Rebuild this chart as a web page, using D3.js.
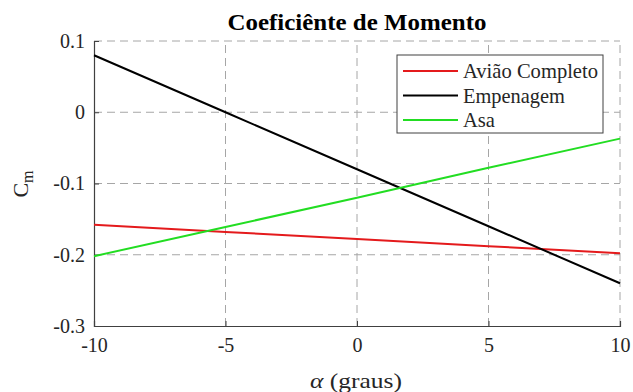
<!DOCTYPE html>
<html>
<head>
<meta charset="utf-8">
<script src="https://cdn.jsdelivr.net/npm/d3@7.9.0/dist/d3.min.js"></script>
<style>
  body { margin: 0; background: #fff; }
  text { font-family: "Liberation Serif", "Times New Roman", serif; fill: #262626; }
</style>
</head>
<body>
<svg id="chart" width="633" height="392"></svg>
<script>
// ----- data -----
const alpha = [-10, -5, 0, 5, 10];
const aviaoCompleto = [-0.158, -0.168, -0.178, -0.188, -0.198];
const empenagem = [0.08, 0.0, -0.08, -0.16, -0.24];
const asa = [-0.202, -0.161, -0.12, -0.078, -0.037];
const seriesNames = ["Avião Completo", "Empenagem", "Asa"];
const seriesColors = ["#e41a1c", "#000000", "#22dd22"];
const xTicks = [-10, -5, 0, 5, 10];
const yTicks = [0.1, 0, -0.1, -0.2, -0.3];

const series = [aviaoCompleto, empenagem, asa].map((vals, i) => ({
  name: seriesNames[i],
  color: seriesColors[i],
  points: alpha.map((a, j) => [a, vals[j]])
}));

const svg = d3.select("#chart");
const m = { left: 94, right: 13, top: 41, bottom: 66 };
const W = 633, H = 392;

const x = d3.scaleLinear().domain([-10, 10]).range([m.left, W - m.right]);
const y = d3.scaleLinear().domain([-0.3, 0.1]).range([H - m.bottom, m.top]);

// grid
const grid = svg.append("g")
  .attr("stroke", "#a6a6a6").attr("stroke-width", 1).attr("stroke-dasharray", "8,5");
grid.selectAll(".gx").data(xTicks.slice(1)).enter().append("line")
  .attr("x1", d => x(d)).attr("x2", d => x(d))
  .attr("y1", y(-0.3)).attr("y2", y(0.1));
grid.selectAll(".gy").data(yTicks.slice(0, -1)).enter().append("line")
  .attr("y1", d => y(d)).attr("y2", d => y(d))
  .attr("x1", x(-10)).attr("x2", x(10));

// axes (plain hyphen for minus, as in the original)
const fmtX = d => String(d);
const fmtY = d => d === 0 ? "0" : d3.format(".1f")(d).replace("−", "-");
const xAxis = d3.axisBottom(x).tickValues(xTicks).tickSize(-5).tickPadding(14).tickFormat(fmtX);
const yAxis = d3.axisLeft(y).tickValues(yTicks).tickSize(-5).tickPadding(9).tickFormat(fmtY);

const gx = svg.append("g").attr("transform", `translate(0,${y(-0.3)})`).call(xAxis);
const gy = svg.append("g").attr("transform", `translate(${x(-10)},0)`).call(yAxis);
[gx, gy].forEach(g => {
  g.attr("font-size", 20).attr("font-family", "'Liberation Serif', serif");
  g.select(".domain").attr("stroke", "#404040").attr("stroke-width", 1.2);
  g.selectAll(".tick line").attr("stroke", "#404040");
  g.selectAll(".tick text").attr("fill", "#262626");
});
gx.selectAll(".tick text").attr("dy", "0.6em");

// lines
const line = d3.line().x(d => x(d[0])).y(d => y(d[1]));
svg.append("g").selectAll("path").data(series).enter().append("path")
  .attr("d", d => line(d.points))
  .attr("fill", "none")
  .attr("stroke", d => d.color)
  .attr("stroke-width", 2);

// title and labels
svg.append("text").attr("x", 357).attr("y", 30).attr("text-anchor", "middle")
  .attr("font-size", 23).attr("font-weight", "bold").style("fill", "#000")
  .attr("textLength", 259).attr("lengthAdjust", "spacingAndGlyphs")
  .text("Coeficiênte de Momento");

const xl = svg.append("text").attr("x", 356).attr("y", 388).attr("text-anchor", "middle")
  .attr("font-size", 21).attr("textLength", 92).attr("lengthAdjust", "spacingAndGlyphs");
xl.append("tspan").attr("font-style", "italic").text("α");
xl.append("tspan").text(" (graus)");

const yl = svg.append("text").attr("transform", "translate(28,184) rotate(-90)")
  .attr("text-anchor", "middle").attr("font-size", 22);
yl.append("tspan").text("C");
yl.append("tspan").attr("font-size", 16).attr("dy", 5).text("m");

// legend
const legendWidths = [135, 102, 32];
const lg = svg.append("g");
lg.append("rect").attr("x", 397).attr("y", 55).attr("width", 206).attr("height", 78)
  .attr("fill", "#fff").attr("stroke", "#404040").attr("stroke-width", 1);
const rows = lg.selectAll(".row").data(series).enter().append("g")
  .attr("transform", (d, i) => `translate(0,${71 + i * 24.5})`);
rows.append("line").attr("x1", 403).attr("x2", 458).attr("y1", 0).attr("y2", 0)
  .attr("stroke", d => d.color).attr("stroke-width", 2);
rows.append("text").attr("x", 463).attr("y", 0).attr("dy", "0.35em")
  .attr("font-size", 21)
  .attr("textLength", (d, i) => legendWidths[i]).attr("lengthAdjust", "spacingAndGlyphs")
  .text(d => d.name);
</script>
</body>
</html>
